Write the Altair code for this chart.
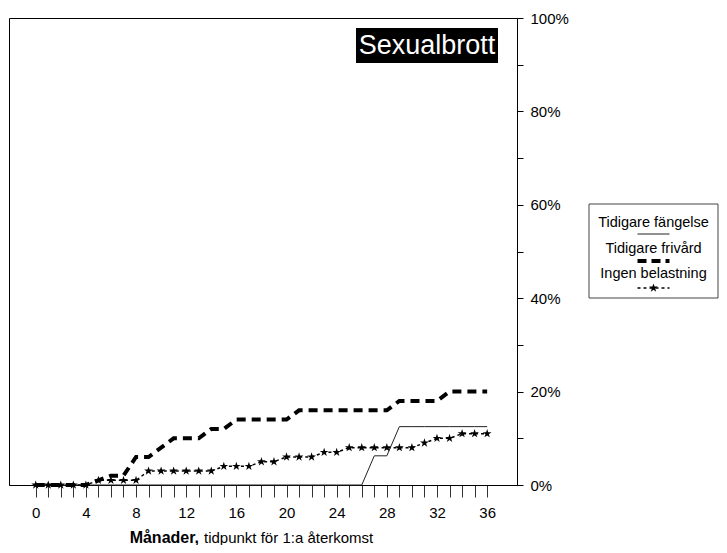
import altair as alt
import pandas as pd

FONT = "Liberation Sans, Arial, sans-serif"
STAR = ("M0,-1L0.2245,-0.309L0.951,-0.309L0.363,0.118L0.588,0.809L0,0.382"
        "L-0.588,0.809L-0.363,0.118L-0.951,-0.309L-0.2245,-0.309Z")

months = list(range(0, 37))
series = ["Tidigare fängelse", "Tidigare frivård", "Ingen belastning"]

fangelse = [0, 0, 0, 0, 0, 0, 0, 0, 0, 0,
            0, 0, 0, 0, 0, 0, 0, 0, 0, 0,
            0, 0, 0, 0, 0, 0, 0, 6.25, 6.25, 12.5,
            12.5, 12.5, 12.5, 12.5, 12.5, 12.5, 12.5]
frivard = [0, 0, 0, 0, 0, 1, 2, 2, 6, 6,
           8, 10, 10, 10, 12, 12, 14, 14, 14, 14,
           14, 16, 16, 16, 16, 16, 16, 16, 16, 18,
           18, 18, 18, 20, 20, 20, 20]
ingen = [0, 0, 0, 0, 0, 1, 1, 1, 1, 3,
         3, 3, 3, 3, 3, 4, 4, 4, 5, 5,
         6, 6, 6, 7, 7, 8, 8, 8, 8, 8,
         8, 9, 10, 10, 11, 11, 11]

x_ticks = months
y_ticks = [0, 10, 20, 30, 40, 50, 60, 70, 80, 90, 100]

rows = []
for name, vals in zip(series, [fangelse, frivard, ingen]):
    for m, v in zip(months, vals):
        rows.append({"serie": name, "month": m, "pct": v})
df = pd.DataFrame(rows)

W, H = 508, 467

xenc = alt.X("month:Q",
             scale=alt.Scale(domain=[-2.13, 38.38], nice=False, zero=False),
             axis=alt.Axis(values=x_ticks, tickSize=12, tickColor="#333",
                           domainColor="black", grid=False, title=None,
                           labelExpr="datum.value % 4 == 0 ? datum.label : ''",
                           labelFont=FONT, labelFontSize=15, labelColor="black",
                           labelPadding=8, labelOverlap=False))
yenc = alt.Y("pct:Q",
             scale=alt.Scale(domain=[0, 100], nice=False),
             axis=alt.Axis(orient="right", values=y_ticks, tickSize=6,
                           tickColor="black", domainColor="black", grid=False,
                           title=None,
                           labelExpr="datum.value % 20 == 0 ? datum.value + '%' : ''",
                           labelFont=FONT, labelFontSize=15, labelColor="black",
                           labelPadding=7, labelOverlap=False))

base = alt.Chart(df).encode(x=xenc, y=yenc)

l_fang = base.transform_filter(alt.datum.serie == series[0]).mark_line(
    color="#222", strokeWidth=1)
l_friv = base.transform_filter(alt.datum.serie == series[1]).mark_line(
    color="black", strokeWidth=4, strokeDash=[9, 6], strokeCap="butt")
l_ingen = base.transform_filter(alt.datum.serie == series[2]).mark_line(
    color="black", strokeWidth=1.5, strokeDash=[3, 3])
p_ingen = base.transform_filter(alt.datum.serie == series[2]).mark_point(
    shape=STAR, filled=True, size=85, color="black", opacity=1)

one = pd.DataFrame({"a": [0]})

# title box
title_box = alt.Chart(one).mark_rect(color="black").encode(
    x=alt.value(347), x2=alt.value(489), y=alt.value(10), y2=alt.value(45))
title_txt = alt.Chart(one).mark_text(
    text="Sexualbrott", color="white", font=FONT, fontSize=27,
    align="center", baseline="middle").encode(x=alt.value(418), y=alt.value(28))

# x axis title
xt_bold = alt.Chart(one).mark_text(
    text="Månader,", font=FONT, fontSize=16, fontWeight="bold", color="black",
    align="right", baseline="middle").encode(x=alt.value(190), y=alt.value(520))
xt_norm = alt.Chart(one).mark_text(
    text="tidpunkt för 1:a återkomst", font=FONT, fontSize=15, color="black",
    align="left", baseline="middle").encode(x=alt.value(195), y=alt.value(520))

# legend
LX0, LX1 = 580, 709
LC = (LX0 + LX1) / 2
leg_box = alt.Chart(one).mark_rect(fill="white", stroke="#444", strokeWidth=1).encode(
    x=alt.value(LX0), x2=alt.value(LX1), y=alt.value(186), y2=alt.value(280))
leg_layers = [leg_box]
for i, name in enumerate(series):
    leg_layers.append(alt.Chart(one).mark_text(
        text=name, font=FONT, fontSize=14.5, color="black",
        align="center", baseline="middle").encode(
        x=alt.value(LC), y=alt.value(205 + 25.5 * i)))
leg_layers.append(alt.Chart(one).mark_rule(color="#222", strokeWidth=1).encode(
    x=alt.value(LC - 16), x2=alt.value(LC + 16), y=alt.value(216)))
leg_layers.append(alt.Chart(one).mark_rule(color="black", strokeWidth=4,
                                           strokeDash=[9, 5], strokeCap="butt").encode(
    x=alt.value(LC - 16), x2=alt.value(LC + 16), y=alt.value(243)))
leg_layers.append(alt.Chart(one).mark_rule(color="black", strokeWidth=1.5,
                                           strokeDash=[3, 3]).encode(
    x=alt.value(LC - 16), x2=alt.value(LC + 16), y=alt.value(270)))
leg_layers.append(alt.Chart(one).mark_point(shape=STAR, filled=True, size=85,
                                            color="black", opacity=1).encode(
    x=alt.value(LC), y=alt.value(270)))

chart = alt.layer(
    l_fang, l_friv, l_ingen, p_ingen,
    title_box, title_txt, xt_bold, xt_norm, *leg_layers
).properties(
    width=W, height=H,
    autosize=alt.AutoSizeParams(type="none"),
    padding={"left": 1, "top": 10, "right": 202, "bottom": 60},
    background="white",
).configure_view(stroke="black", strokeWidth=1)

chart.save("out.html", embed_options={"renderer": "svg", "actions": False})
